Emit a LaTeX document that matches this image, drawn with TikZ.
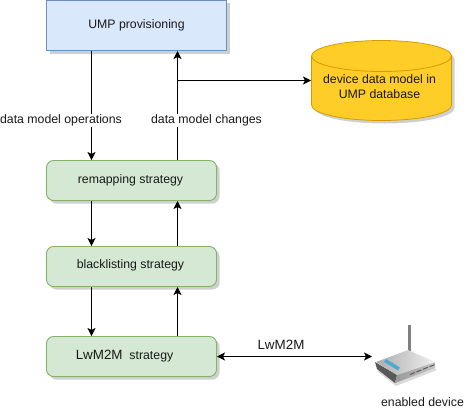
\documentclass[tikz,border=0pt]{standalone}
\usepackage{fontspec}
\setmainfont{Liberation Sans}
\usetikzlibrary{arrows.meta,shapes.geometric}
\definecolor{bluefill}{HTML}{DAE8FC}
\definecolor{blueline}{HTML}{6C8EBF}
\definecolor{greenfill}{HTML}{D5E8D4}
\definecolor{greenline}{HTML}{82B366}
\definecolor{yelfill}{HTML}{FFCD28}
\definecolor{yelline}{HTML}{D79B00}
\definecolor{shad}{HTML}{CFCFCF}
\newcommand{\lwfont}{\fontsize{13.4}{14}\selectfont}
\tikzset{
  x=1pt,y=-1pt,
  lbl/.style={font=\fontsize{12.3}{15}\selectfont,inner sep=0pt,text=black!90},
  lblbg/.style={lbl,fill=white,inner sep=1pt},
  umpbox/.style={draw=blueline,fill=bluefill,line width=0.9pt,minimum width=180pt,minimum height=50pt,inner sep=0pt},
  strat/.style={draw=greenline,fill=greenfill,line width=0.9pt,rounded corners=7pt,minimum width=170pt,minimum height=40pt,inner sep=0pt},
  cyl/.style={draw=yelline,fill=yelfill,line width=0.8pt},
  conn/.style={draw=black,line width=1pt,-{Stealth[length=8pt,width=8pt,inset=2pt]}},
  conns/.style={conn,{Stealth[length=8pt,width=8pt,inset=2pt]}-{Stealth[length=8pt,width=8pt,inset=2pt]}},
}
\begin{document}
\begin{tikzpicture}
\useasboundingbox (0,0) rectangle (469,416);
% shadows
\fill[shad] (49.5,3) rectangle (229.5,53.5);
\foreach \yy in {163.5,249.5,339.5}{
  \fill[shad,rounded corners=7pt] (49.5,\yy) rectangle ++(170,40);
}
\fill[shad] (314.5,59) -- (314.5,108) arc[start angle=180,end angle=0,x radius=70,y radius=15.5] -- (454.5,59) arc[start angle=0,end angle=-180,x radius=70,y radius=15.5] -- cycle;
% boxes
\node[umpbox] (ump) at (136.5,25.5) {};
\node[lbl] (umpt) at (136.5,25) {UMP provisioning};
\node[strat] (remap) at (131.5,180.5) {};
\node[lbl] (remapt) at (130.5,180) {remapping strategy};
\node[strat] (black) at (131.5,266.5) {};
\node[lbl] (blackt) at (130.5,265.5) {blacklisting strategy};
\node[strat] (lwm) at (131.5,356.5) {};
\node[lbl] (lwmt) at (124.5,356) {{\lwfont LwM2M}\ \ strategy};
% cylinder
\draw[cyl] (311.5,56) -- (311.5,105) arc[start angle=180,end angle=0,x radius=70,y radius=15.5] -- (451.5,56) arc[start angle=0,end angle=-180,x radius=70,y radius=15.5] -- cycle;
\draw[cyl,fill=none] (311.5,56) arc[start angle=180,end angle=0,x radius=70,y radius=15.5];
\node[lbl,align=center] (db) at (379.5,87) {device data model in\\UMP database};
% connectors
\coordinate (a1) at (91.5,51);
\coordinate (a2) at (91.5,160);
\draw[conn] (a1) -- (a2);
\coordinate (b1) at (177.5,160);
\coordinate (b2) at (177.5,51);
\draw[conn] (b1) -- (b2);
\coordinate (j) at (177.5,80.5);
\coordinate (je) at (311,80.5);
\draw[conn] (j) -- (je);
\coordinate (c1) at (91.5,201);
\coordinate (c2) at (91.5,246);
\draw[conn] (c1) -- (c2);
\coordinate (d1) at (177.5,246);
\coordinate (d2) at (177.5,201);
\draw[conn] (d1) -- (d2);
\coordinate (e1) at (91.5,287);
\coordinate (e2) at (91.5,336);
\draw[conn] (e1) -- (e2);
\coordinate (f1) at (177.5,336);
\coordinate (f2) at (177.5,287);
\draw[conn] (f1) -- (f2);
\coordinate (g1) at (217,356.5);
\coordinate (g2) at (372,356.5);
\draw[conns] (g1) -- (g2);
% labels
\node[lblbg] (l1) at (61,120.5) {data model operations};
\node[lblbg] (l2) at (206.5,120.5) {data model changes};
\node[lbl,font=\lwfont] (l3) at (281,344.5) {LwM2M};
% router
\fill[black!50] (408,325) rectangle (410.5,352);
\fill[black!15] (377,371) -- (396,386) -- (437,370) -- (425,362) -- cycle;
\fill[black!65] (375,362) -- (377,369) -- (395,383) -- (397,375) -- cycle;
\shade[left color=gray!80,right color=gray!45] (397,375) -- (395,383) -- (435,368) -- (435,362) -- cycle;
\shade[left color=gray!65,right color=gray!12] (376,362) -- (397,375) -- (435,362) -- (408,350) -- cycle;
\draw[cyan!65!gray,line width=3.5pt] (385,360.5) -- (399,369);
\foreach \dx in {0,6.5,13,19.5}{
  \draw[black!65,line width=1pt] ({410+\dx},{374.5-\dx*.4}) -- ++(5,-2);
}
\node[lbl] (dev) at (422.5,402.5) {enabled device};
\end{tikzpicture}
\end{document}
